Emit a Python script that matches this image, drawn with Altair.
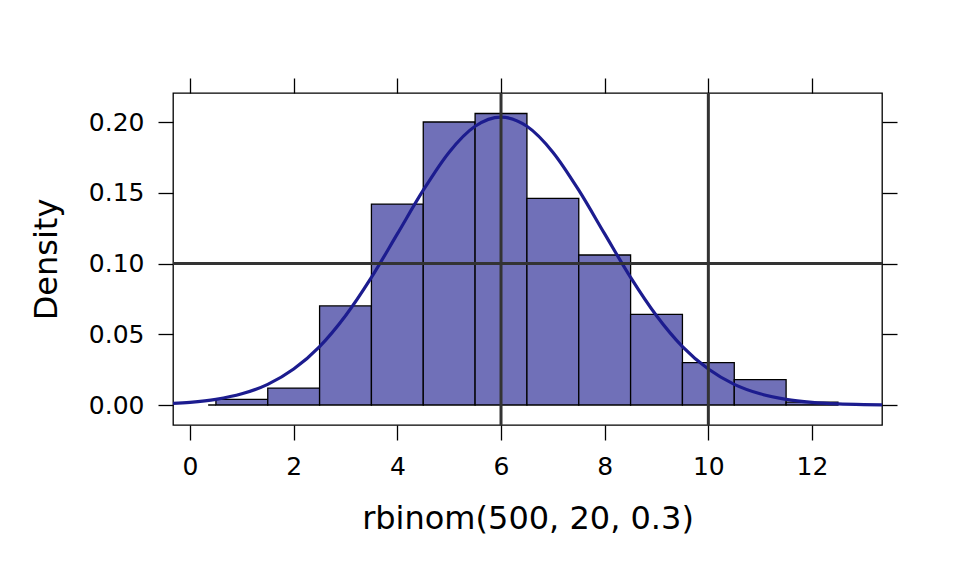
import altair as alt
import pandas as pd

# Histogram bins (density scale)
bin_start = [0.35, 0.5, 1.5, 2.5, 3.5, 4.5, 5.5, 6.5, 7.5, 8.5, 9.5, 10.5, 11.5]
bin_end = [0.5, 1.5, 2.5, 3.5, 4.5, 5.5, 6.5, 7.5, 8.5, 9.5, 10.5, 11.5, 12.5]
density = [0.0, 0.004, 0.012, 0.070, 0.142, 0.200, 0.206, 0.146, 0.106, 0.064, 0.030, 0.018, 0.002]

# Fitted density curve
curve_x = [-0.5, 0, 0.5, 1, 1.5, 2, 2.5, 3, 3.5, 4, 4.5, 5, 5.5, 6, 6.5, 7, 7.5, 8,
           8.5, 9, 9.5, 10, 10.5, 11, 11.5, 12, 12.5, 13, 13.5]
curve_y = [0.0008, 0.0019, 0.0040, 0.0079, 0.0146, 0.0254, 0.0413, 0.0631, 0.0902,
           0.1209, 0.1518, 0.1787, 0.1970, 0.2035, 0.1970, 0.1787, 0.1518, 0.1209,
           0.0902, 0.0631, 0.0413, 0.0254, 0.0146, 0.0079, 0.0040, 0.0019, 0.0008,
           0.0003, 0.0001]

# Reference lines
h_lines = [0.10]
v_lines = [6, 10]

x_ticks = [0, 2, 4, 6, 8, 10, 12]
y_ticks = [0.00, 0.05, 0.10, 0.15, 0.20]

bars_df = pd.DataFrame({"start": bin_start, "end": bin_end, "density": density})
curve_df = pd.DataFrame({"x": curve_x, "y": curve_y})
h_df = pd.DataFrame({"y": h_lines})
v_df = pd.DataFrame({"x": v_lines})

xscale = alt.Scale(domain=[-0.328, 13.35], nice=False, zero=False)
yscale = alt.Scale(domain=[-0.01413, 0.2205], nice=False, zero=False)

FONT = "DejaVu Sans"

x_bottom = alt.Axis(values=x_ticks, format="d", title="rbinom(500, 20, 0.3)",
                    orient="bottom", titleBaseline="alphabetic", titleY=103,
                    titleX=354.5, titleAlign="center")
y_left = alt.Axis(values=y_ticks, format=".2f", title="Density", orient="left",
                  titleAngle=270, titleBaseline="alphabetic", titleX=-117,
                  titleY=166, titleAlign="center")
x_top = alt.Axis(values=x_ticks, labels=False, title=None, orient="top")
y_right = alt.Axis(values=y_ticks, labels=False, title=None, orient="right")

bars = alt.Chart(bars_df).mark_rect(
    fill="#7070B8", stroke="black", strokeWidth=1.3
).encode(
    x=alt.X("start:Q", scale=xscale, axis=x_bottom),
    x2="end:Q",
    y=alt.Y("density:Q", scale=yscale, axis=y_left),
    y2=alt.datum(0),
)

curve = alt.Chart(curve_df).mark_line(
    color="#1C1C8F", strokeWidth=3.2, interpolate="monotone", clip=True
).encode(
    x=alt.X("x:Q", scale=xscale, axis=x_top),
    y=alt.Y("y:Q", scale=yscale, axis=y_right),
)

hrule = alt.Chart(h_df).mark_rule(color="#333333", strokeWidth=3).encode(
    y=alt.Y("y:Q", scale=yscale, axis=None)
)
vrule = alt.Chart(v_df).mark_rule(color="#333333", strokeWidth=3).encode(
    x=alt.X("x:Q", scale=xscale, axis=None)
)

chart = alt.layer(bars, curve, hrule, vrule).resolve_axis(
    x="independent", y="independent"
).properties(
    width=709,
    height=332,
    autosize=alt.AutoSizeParams(type="none"),
    padding={"left": 165, "top": 85, "right": 70, "bottom": 143},
    background="white",
).configure_view(
    stroke="black", strokeWidth=1.3
).configure_axis(
    domain=False, grid=False, ticks=True, tickSize=15, tickWidth=1.3,
    tickColor="black", labelFont=FONT, labelFontSize=25, labelColor="black",
    labelPadding=14, titleFont=FONT, titleFontSize=32, titleFontWeight="normal",
    titleColor="black",
)

chart.save("out.html", embed_options={"renderer": "svg", "actions": False})
